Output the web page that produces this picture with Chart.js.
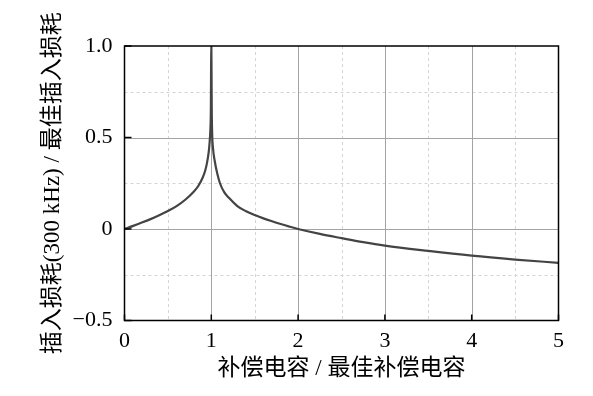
<!DOCTYPE html>
<html>
<head>
<meta charset="utf-8">
<script src="https://cdn.jsdelivr.net/npm/chart.js@4/dist/chart.umd.min.js"></script>
<style>
  html, body { margin: 0; padding: 0; background: #ffffff; }
  #wrap { width: 593px; height: 396px; }
</style>
</head>
<body>
<div id="wrap"><canvas id="c" width="593" height="396"></canvas></div>
<script>
// ---- data ----
const capRatio = [0, 0.1, 0.2, 0.3, 0.4, 0.5, 0.6, 0.7, 0.8, 0.85, 0.9, 0.93, 0.95, 0.97, 0.98, 0.99, 0.995, 1.0,
  1.005, 1.01, 1.02, 1.04, 1.07, 1.1, 1.15, 1.2, 1.3, 1.4, 1.5, 1.6, 1.7, 1.8, 1.9, 2.0,
  2.25, 2.5, 2.75, 3.0, 3.5, 4.0, 4.5, 5.0];
const lossRatio = [0, 0.017, 0.035, 0.054, 0.075, 0.098, 0.125, 0.16, 0.205, 0.235, 0.28, 0.32, 0.36, 0.42, 0.47, 0.55, 0.66, 1.05,
  0.66, 0.52, 0.44, 0.37, 0.30, 0.25, 0.20, 0.172, 0.125, 0.097, 0.076, 0.058, 0.042, 0.027, 0.013, 0.0,
  -0.027, -0.05, -0.072, -0.091, -0.12, -0.146, -0.167, -0.185];
const xTickValues = [0, 1, 2, 3, 4, 5];
const xTickLabels = ['0', '1', '2', '3', '4', '5'];
const yTickValues = [-0.5, 0, 0.5, 1.0];
const yTickLabels = ['\u22120.5', '0', '0.5', '1.0'];
const xMinorGrid = [0.5, 1.5, 2.5, 3.5, 4.5];
const yMinorGrid = [-0.25, 0.25, 0.75];
const xMajorGrid = [1, 2, 3, 4];
const yMajorGrid = [0, 0.5];
const xTitle = '补偿电容 / 最佳补偿电容';
const yTitle = '插入损耗(300 kHz) / 最佳插入损耗';

const points = capRatio.map((x, i) => ({ x: x, y: lossRatio[i] }));
const FONT = "'Liberation Serif', 'Noto Sans CJK SC', serif";

const gridPlugin = {
  id: 'customGrid',
  beforeDatasetsDraw(chart) {
    const { ctx, chartArea: a, scales: { x, y } } = chart;
    ctx.save();
    ctx.lineWidth = 1;
    ctx.strokeStyle = '#d4d4d4';
    ctx.setLineDash([3, 3]);
    xMinorGrid.forEach(v => {
      const p = Math.round(x.getPixelForValue(v)) + 0.5;
      ctx.beginPath(); ctx.moveTo(p, a.top); ctx.lineTo(p, a.bottom); ctx.stroke();
    });
    yMinorGrid.forEach(v => {
      const p = Math.round(y.getPixelForValue(v)) + 0.5;
      ctx.beginPath(); ctx.moveTo(a.left, p); ctx.lineTo(a.right, p); ctx.stroke();
    });
    ctx.setLineDash([]);
    ctx.strokeStyle = '#a3a3a3';
    xMajorGrid.forEach(v => {
      const p = Math.round(x.getPixelForValue(v)) + 0.5;
      ctx.beginPath(); ctx.moveTo(p, a.top); ctx.lineTo(p, a.bottom); ctx.stroke();
    });
    yMajorGrid.forEach(v => {
      const p = Math.round(y.getPixelForValue(v)) + 0.5;
      ctx.beginPath(); ctx.moveTo(a.left, p); ctx.lineTo(a.right, p); ctx.stroke();
    });
    ctx.restore();
  },
  afterDatasetsDraw(chart) {
    const { ctx, chartArea: a, scales: { x, y } } = chart;
    ctx.save();
    ctx.strokeStyle = '#000000';
    ctx.lineWidth = 1.5;
    ctx.strokeRect(a.left, a.top, a.right - a.left, a.bottom - a.top);
    ctx.lineWidth = 1.5;
    xTickValues.forEach(v => {
      const p = x.getPixelForValue(v);
      ctx.beginPath(); ctx.moveTo(p, a.bottom); ctx.lineTo(p, a.bottom - 6); ctx.stroke();
    });
    yTickValues.forEach(v => {
      const p = y.getPixelForValue(v);
      ctx.beginPath(); ctx.moveTo(a.left, p); ctx.lineTo(a.left + 7, p); ctx.stroke();
    });
    ctx.restore();
  }
};

new Chart(document.getElementById('c'), {
  type: 'scatter',
  data: {
    datasets: [{
      data: points,
      showLine: true,
      borderColor: '#444444',
      borderWidth: 2.2,
      pointRadius: 0,
      cubicInterpolationMode: 'monotone',
      fill: false
    }]
  },
  options: {
    responsive: false,
    animation: false,
    devicePixelRatio: 1,
    layout: { padding: { left: 0, right: 34.5, top: 46, bottom: 0 } },
    plugins: { legend: { display: false }, tooltip: { enabled: false } },
    scales: {
      x: {
        type: 'linear', min: 0, max: 5,
        afterFit(scale) { scale.height = 75.5; },
        afterBuildTicks(scale) { scale.ticks = xTickValues.map(v => ({ value: v })); },
        grid: { display: false, drawTicks: false },
        border: { display: false },
        ticks: {
          padding: 8, color: '#000', maxRotation: 0, autoSkip: false,
          font: { family: FONT, size: 22 },
          callback: (v) => { const i = xTickValues.indexOf(v); return i >= 0 ? xTickLabels[i] : ''; }
        },
        title: {
          display: true, text: xTitle, color: '#000',
          font: { family: FONT, size: 23 }, padding: { top: 0, bottom: 13 }
        }
      },
      y: {
        type: 'linear', min: -0.5, max: 1.0,
        afterFit(scale) { scale.width = 124.5; },
        afterBuildTicks(scale) { scale.ticks = yTickValues.map(v => ({ value: v })); },
        grid: { display: false, drawTicks: false },
        border: { display: false },
        ticks: {
          padding: 12, color: '#000', autoSkip: false,
          font: { family: FONT, size: 22 },
          callback: (v) => { const i = yTickValues.indexOf(v); return i >= 0 ? yTickLabels[i] : ''; }
        },
        title: {
          display: true, text: yTitle, color: '#000',
          font: { family: FONT, size: 23 }, padding: { top: 39, bottom: 0 }
        }
      }
    }
  },
  plugins: [gridPlugin]
});
</script>
</body>
</html>
